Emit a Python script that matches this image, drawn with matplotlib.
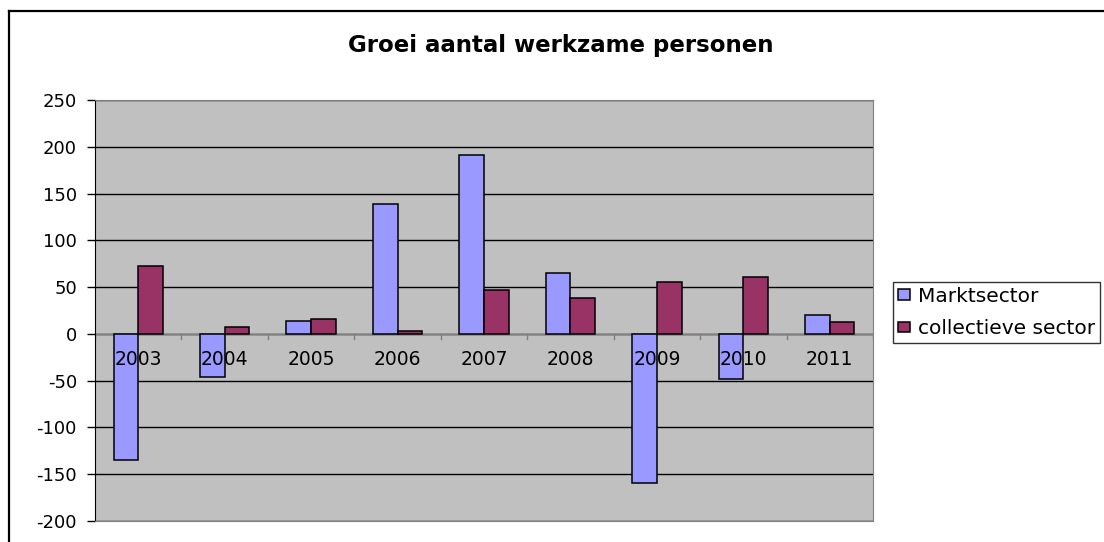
import matplotlib
matplotlib.use("Agg")
import matplotlib.pyplot as plt
import numpy as np
from matplotlib.lines import Line2D

plt.rcParams['font.family'] = ['DejaVu Sans']
plt.rcParams['axes.unicode_minus'] = False

years = ['2003', '2004', '2005', '2006', '2007', '2008', '2009', '2010', '2011']
marktsector = [-135, -46, 14, 139, 191, 65, -159, -48, 20]
collectief = [73, 7, 16, 3, 47, 38, 55, 61, 13]

W, H = 1104, 542
fig = plt.figure(figsize=(W / 100, H / 100), dpi=100)

# outer chart border: only top and left are visible in the original
bx, by = 8.5 / W, 1 - 10.5 / H
fig.add_artist(Line2D([bx, 1.05], [by, by], transform=fig.transFigure,
                      color='black', linewidth=1.6))
fig.add_artist(Line2D([bx, bx], [by, -0.05], transform=fig.transFigure,
                      color='black', linewidth=1.6))

ax = fig.add_axes([95 / W, 1 - 521 / H, (873 - 95) / W, (521 - 100) / H])
ax.set_facecolor('#C0C0C0')

x = np.arange(len(years))
bw = 1 / 3.5
ax.bar(x - bw / 2, marktsector, bw, color='#9999FF', edgecolor='black',
       linewidth=1.1, label='Marktsector', zorder=3)
ax.bar(x + bw / 2, collectief, bw, color='#993366', edgecolor='black',
       linewidth=1.1, label='collectieve sector', zorder=3)

ax.set_xlim(-0.5, len(years) - 0.5)
ax.set_ylim(-200, 250)
ax.set_yticks(range(-200, 251, 50))
ax.yaxis.grid(True, color='black', linewidth=1)
ax.set_axisbelow(True)
ax.tick_params(axis='y', length=6, width=1, labelsize=13, pad=7)

# category axis sits at zero
ax.axhline(0, color='#808080', linewidth=1, zorder=2)
ax.set_xticks([])
for i in range(len(years) + 1):
    ax.plot([i - 0.5, i - 0.5], [0, -5], color='#808080', linewidth=1, zorder=2)
for i, yr in enumerate(years):
    ax.text(i, -27, yr, ha='center', va='center', fontsize=13.5, zorder=4)

for side in ['top', 'right', 'bottom']:
    ax.spines[side].set_color('#808080')
ax.spines['left'].set_color('black')

fig.text(561 / W, 1 - 52 / H, 'Groei aantal werkzame personen', ha='center',
         va='baseline', fontsize=16.5, fontweight='bold')

leg = fig.legend(loc='upper left', bbox_to_anchor=(893 / W, 1 - 282 / H),
                 fontsize=14.5, frameon=True, fancybox=False, edgecolor='black',
                 handlelength=0.6, handleheight=0.45, handletextpad=0.4,
                 borderpad=0.25, labelspacing=0.65, borderaxespad=0)
leg.get_frame().set_linewidth(1)

fig.savefig('out.png', dpi=100)
